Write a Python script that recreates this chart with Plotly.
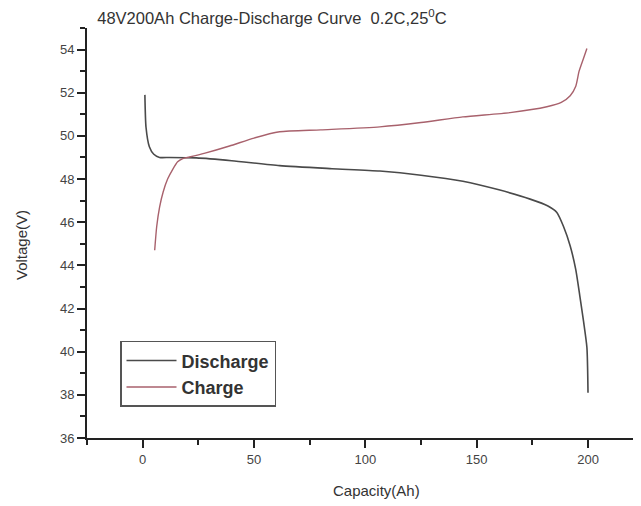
import plotly.graph_objects as go

discharge_cap = [1, 1.5, 3, 5, 7.6, 12, 24, 40, 61.5, 85, 106.5, 125, 143.8, 160, 174, 182, 186, 189, 192, 194.5, 196.3, 198, 199.5, 200]
discharge_v = [51.9, 50.4, 49.5, 49.15, 49.0, 49.0, 48.98, 48.85, 48.62, 48.48, 48.37, 48.18, 47.9, 47.5, 47.07, 46.75, 46.45, 45.8, 44.9, 43.8, 42.6, 41.4, 40.2, 38.1]

charge_cap = [5.4, 6.3, 7.6, 9.2, 11.2, 13.5, 15.7, 18, 21, 28, 39, 50, 61.5, 80, 106.5, 125, 143.8, 165, 181.5, 188, 192, 194.5, 196, 198, 199.5]
charge_v = [44.7, 45.8, 46.7, 47.4, 48.0, 48.45, 48.8, 48.95, 49.02, 49.2, 49.53, 49.9, 50.19, 50.28, 50.42, 50.62, 50.88, 51.08, 51.35, 51.55, 51.86, 52.3, 53.0, 53.6, 54.05]

x_ticks = [0, 50, 100, 150, 200]
y_ticks = [36, 38, 40, 42, 44, 46, 48, 50, 52, 54]

fig = go.Figure()
fig.add_trace(go.Scatter(x=discharge_cap, y=discharge_v, mode="lines", name="Discharge",
                         line=dict(color="#4a4a4a", width=1.6, shape="spline", smoothing=0.6)))
fig.add_trace(go.Scatter(x=charge_cap, y=charge_v, mode="lines", name="Charge",
                         line=dict(color="#a8616c", width=1.4, shape="spline", smoothing=0.6)))

font_family = "Liberation Sans, Arial, sans-serif"
fig.update_layout(
    width=633, height=498,
    margin=dict(l=79, r=4, t=20, b=68),
    paper_bgcolor="white", plot_bgcolor="white",
    font=dict(family=font_family, color="#333333", size=13),
    title=dict(text="48V200Ah Charge-Discharge Curve  0.2C,25<sup>0</sup>C",
               xref="container", yref="container",
               x=0.417, xanchor="center", y=0.98, yanchor="middle",
               font=dict(size=16.5, color="#333333")),
    showlegend=True,
    legend=dict(x=0.06, y=0.237, xanchor="left", yanchor="top",
                bgcolor="white", bordercolor="#555555", borderwidth=1.5,
                font=dict(size=18, color="#333333", weight="bold"), tracegroupgap=0,
                itemwidth=50),
    annotations=[
        dict(text="Capacity(Ah)", xref="paper", yref="paper", x=0.527, y=-0.127,
             xanchor="center", yanchor="middle", showarrow=False,
             font=dict(size=15, color="#333333")),
        dict(text="Voltage(V)", xref="paper", yref="paper", x=-0.118, y=0.471,
             xanchor="center", yanchor="middle", showarrow=False, textangle=-90,
             font=dict(size=15, color="#333333")),
    ],
)
fig.update_xaxes(range=[-25, 222], tickvals=x_ticks, ticks="outside", ticklen=8, tickwidth=1.5,
                 tickcolor="#222", showline=True, linecolor="#222", linewidth=2,
                 showgrid=False, zeroline=False,
                 minor=dict(dtick=25, tick0=0, ticks="outside", ticklen=5, tickcolor="#222", tickwidth=1.5),
                 tickfont=dict(size=13, color="#444444"))
fig.update_yaxes(range=[36, 55], tickvals=y_ticks, ticks="outside", ticklen=8, tickwidth=1.5,
                 tickcolor="#222", showline=True, linecolor="#222", linewidth=2,
                 showgrid=False, zeroline=False,
                 minor=dict(dtick=1, tick0=36, ticks="outside", ticklen=5, tickcolor="#222", tickwidth=1.5),
                 tickfont=dict(size=13, color="#444444"))

fig.write_html("out.html")
